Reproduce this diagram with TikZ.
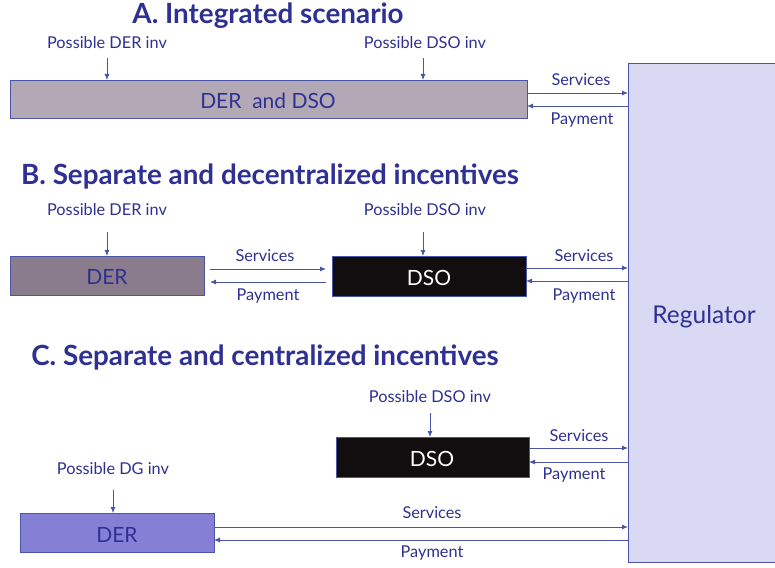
\documentclass[tikz,border=0pt]{standalone}
\usepackage{fontspec}
\setmainfont{Lato}
\usetikzlibrary{arrows.meta}
\definecolor{txtblue}{HTML}{2E3192}
\definecolor{lnblue}{HTML}{4A55A8}
\definecolor{boxA}{HTML}{B3A9B6}
\definecolor{derB}{HTML}{8A7C8C}
\definecolor{derC}{HTML}{8580D6}
\definecolor{regfill}{HTML}{D9D9F3}
\definecolor{dsofill}{HTML}{120E10}
\tikzset{
  every node/.style={inner sep=0pt, outer sep=0pt},
  ttl/.style={font=\bfseries\fontsize{27.8}{32}\selectfont, text=txtblue},
  lbl/.style={font=\fontsize{16.3}{19}\selectfont, text=txtblue},
  btxt/.style={font=\fontsize{21}{25}\selectfont, text=txtblue},
  blk/.style={draw=lnblue, line width=0.9pt, anchor=north west},
  arr/.style={draw=lnblue, line width=0.8pt, -{Latex[length=6pt,width=5pt]}},
}
\begin{document}
\begin{tikzpicture}[x=1pt,y=-1pt]
\useasboundingbox (0,0) rectangle (775,567);
\fill[white] (0,0) rectangle (775,567);

% Regulator
\node[blk, fill=regfill, minimum width=150pt, minimum height=499pt] (reg) at (628,63) {};
\node[font=\fontsize{24.5}{28}\selectfont, text=txtblue] (regtxt) at (704,317) {Regulator};

% ---- A ----
\node[ttl] (titleA) at (268,16) {A. Integrated scenario};
\node[lbl] (invA1) at (107,43) {Possible DER inv};
\node[lbl] (invA2) at (425,43) {Possible DSO inv};
\node[blk, fill=boxA, minimum width=517pt, minimum height=38pt] (boxA) at (10,80) {};
\node[btxt] (boxAtxt) at (268,101) {DER\ \ and DSO};
\coordinate (aA1) at (107,58);
\coordinate (aA2) at (423,58);
\draw[arr] (aA1) -- (aA1 |- boxA.north);
\draw[arr] (aA2) -- (aA2 |- boxA.north);
\draw[arr] (boxA.east |- 0,93) -- (reg.west |- 0,93);
\draw[arr] (reg.west |- 0,106) -- (boxA.east |- 0,106);
\node[lbl] (sA) at (581,80) {Services};
\node[lbl] (pA) at (582,120) {Payment};

% ---- B ----
\node[ttl] (titleB) at (270,176) {B. Separate and decentralized incentives};
\node[lbl] (invB1) at (107,210) {Possible DER inv};
\node[lbl] (invB2) at (425,210) {Possible DSO inv};
\node[blk, fill=derB, minimum width=194pt, minimum height=39pt] (derB) at (10,256) {};
\node[btxt] (derBtxt) at (107,277) {DER};
\node[blk, fill=dsofill, minimum width=194pt, minimum height=40pt] (dsoB) at (332,256) {};
\node[btxt, text=white] (dsoBtxt) at (429,278) {DSO};
\coordinate (aB1) at (107,232);
\coordinate (aB2) at (423,232);
\draw[arr] (aB1) -- (aB1 |- derB.north);
\draw[arr] (aB2) -- (aB2 |- dsoB.north);
\coordinate (bS1) at (210,269);
\coordinate (bS2) at (326,269);
\coordinate (bP1) at (326,282);
\coordinate (bP2) at (210,282);
\draw[arr] (bS1) -- (bS2);
\draw[arr] (bP1) -- (bP2);
\draw[arr] (dsoB.east |- 0,268) -- (reg.west |- 0,268);
\draw[arr] (reg.west |- 0,281) -- (dsoB.east |- 0,281);
\node[lbl] (sB1) at (265,256) {Services};
\node[lbl] (pB1) at (268,296) {Payment};
\node[lbl] (sB2) at (584,256) {Services};
\node[lbl] (pB2) at (584,296) {Payment};

% ---- C ----
\node[ttl] (titleC) at (265,357) {C. Separate and centralized incentives};
\node[lbl] (invC2) at (430,397) {Possible DSO inv};
\node[blk, fill=dsofill, minimum width=193pt, minimum height=40pt] (dsoC) at (336,437) {};
\node[btxt, text=white] (dsoCtxt) at (432,459) {DSO};
\coordinate (aC2) at (430,413);
\draw[arr] (aC2) -- (aC2 |- dsoC.north);
\draw[arr] (dsoC.east |- 0,448) -- (reg.west |- 0,448);
\draw[arr] (reg.west |- 0,462) -- (dsoC.east |- 0,462);
\node[lbl] (sC1) at (579,436) {Services};
\node[lbl] (pC1) at (574,475) {Payment};

\node[lbl] (invC1) at (113,469) {Possible DG inv};
\node[blk, fill=derC, minimum width=194pt, minimum height=39pt] (derC) at (20,513) {};
\node[btxt] (derCtxt) at (117,535) {DER};
\coordinate (aC1) at (113,490);
\draw[arr] (aC1) -- (aC1 |- derC.north);
\draw[arr] (derC.east |- 0,527) -- (reg.west |- 0,527);
\draw[arr] (reg.west |- 0,540) -- (derC.east |- 0,540);
\node[lbl] (sC2) at (432,513) {Services};
\node[lbl] (pC2) at (432,553) {Payment};
\end{tikzpicture}
\end{document}
